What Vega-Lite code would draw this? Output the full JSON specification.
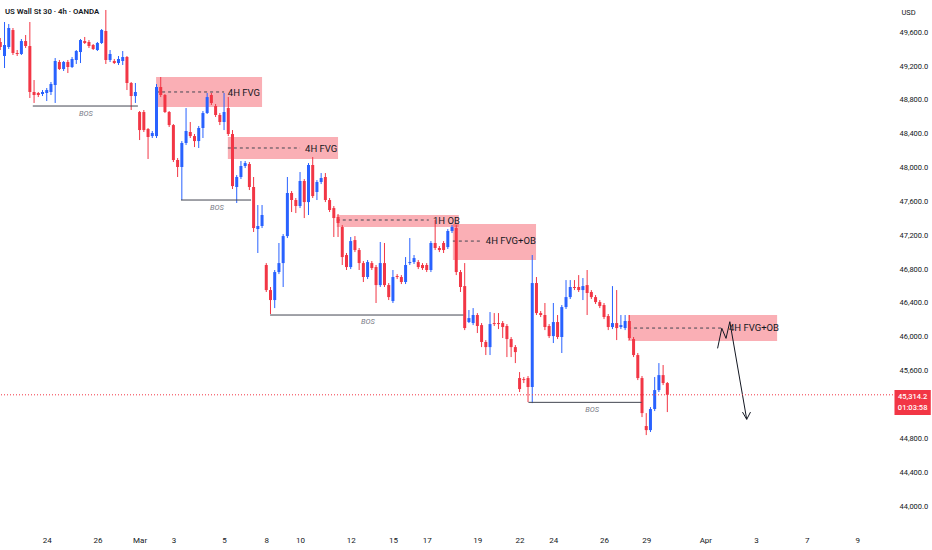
{
  "$schema": "https://vega.github.io/schema/vega-lite/v6.json",
  "description": "US Wall St 30 4h candles with FVG / OB zones and BOS levels.",
  "autosize": {"type": "none"},
  "padding": {"left": 0, "top": 0, "right": 39, "bottom": 22},
  "width": 893,
  "height": 528,
  "background": "white",
  "config": {
    "view": {"stroke": null},
    "font": "Roboto, sans-serif",
    "axis": {"grid": false, "ticks": false, "domain": false, "labelColor": "#131722", "labelFont": "Roboto", "titleFont": "Roboto"}
  },
  "resolve": {"axis": {"x": "independent", "y": "independent"}},
  "datasets": {
    "candles": [
      {"i":0,"o":49484,"h":49531,"l":49389,"c":49424},
      {"i":1,"o":49318,"h":49720,"l":49176,"c":49448},
      {"i":2,"o":49424,"h":49696,"l":49401,"c":49649},
      {"i":3,"o":49625,"h":49649,"l":49330,"c":49354},
      {"i":4,"o":49354,"h":49389,"l":49318,"c":49342},
      {"i":5,"o":49342,"h":49519,"l":49330,"c":49495},
      {"i":6,"o":49495,"h":49566,"l":49413,"c":49436},
      {"i":7,"o":49436,"h":49720,"l":48822,"c":48893},
      {"i":8,"o":48893,"h":49034,"l":48763,"c":48857},
      {"i":9,"o":48881,"h":48893,"l":48833,"c":48857},
      {"i":10,"o":48869,"h":48916,"l":48845,"c":48893},
      {"i":11,"o":48881,"h":48940,"l":48786,"c":48916},
      {"i":12,"o":48893,"h":49011,"l":48857,"c":48987},
      {"i":13,"o":48975,"h":49294,"l":48763,"c":49259},
      {"i":14,"o":49247,"h":49271,"l":49153,"c":49164},
      {"i":15,"o":49164,"h":49259,"l":49141,"c":49247},
      {"i":16,"o":49247,"h":49271,"l":49117,"c":49188},
      {"i":17,"o":49188,"h":49306,"l":49176,"c":49283},
      {"i":18,"o":49271,"h":49389,"l":49224,"c":49377},
      {"i":19,"o":49365,"h":49519,"l":49235,"c":49507},
      {"i":20,"o":49495,"h":49543,"l":49460,"c":49472},
      {"i":21,"o":49484,"h":49507,"l":49413,"c":49436},
      {"i":22,"o":49448,"h":49460,"l":49389,"c":49401},
      {"i":23,"o":49389,"h":49484,"l":49377,"c":49472},
      {"i":24,"o":49472,"h":49637,"l":49460,"c":49625},
      {"i":25,"o":49614,"h":49862,"l":49224,"c":49271},
      {"i":26,"o":49271,"h":49389,"l":49247,"c":49342},
      {"i":27,"o":49259,"h":49283,"l":49224,"c":49235},
      {"i":28,"o":49235,"h":49318,"l":49212,"c":49283},
      {"i":29,"o":49259,"h":49377,"l":49212,"c":49306},
      {"i":30,"o":49306,"h":49318,"l":48916,"c":48999},
      {"i":31,"o":48999,"h":49011,"l":48680,"c":48845},
      {"i":32,"o":48845,"h":48999,"l":48763,"c":48893},
      {"i":33,"o":48656,"h":48668,"l":48325,"c":48443},
      {"i":34,"o":48656,"h":48680,"l":48420,"c":48443},
      {"i":35,"o":48455,"h":48467,"l":48101,"c":48361},
      {"i":36,"o":48372,"h":48432,"l":48349,"c":48408},
      {"i":37,"o":48372,"h":48987,"l":48349,"c":48952},
      {"i":38,"o":48952,"h":49070,"l":48833,"c":48857},
      {"i":39,"o":48857,"h":48869,"l":48644,"c":48656},
      {"i":40,"o":48656,"h":48668,"l":48479,"c":48502},
      {"i":41,"o":48502,"h":48514,"l":48065,"c":48089},
      {"i":42,"o":48089,"h":48112,"l":47888,"c":48006},
      {"i":43,"o":48006,"h":48313,"l":47616,"c":48290},
      {"i":44,"o":48290,"h":48703,"l":48266,"c":48432},
      {"i":45,"o":48420,"h":48538,"l":48349,"c":48372},
      {"i":46,"o":48372,"h":48396,"l":48242,"c":48313},
      {"i":47,"o":48313,"h":48491,"l":48231,"c":48467},
      {"i":48,"o":48467,"h":48668,"l":48349,"c":48644},
      {"i":49,"o":48644,"h":48881,"l":48633,"c":48833},
      {"i":50,"o":48857,"h":48881,"l":48739,"c":48763},
      {"i":51,"o":48727,"h":48751,"l":48597,"c":48621},
      {"i":52,"o":48621,"h":48644,"l":48502,"c":48538},
      {"i":53,"o":48538,"h":48881,"l":48443,"c":48656},
      {"i":54,"o":48703,"h":48833,"l":48372,"c":48396},
      {"i":55,"o":48396,"h":48443,"l":47746,"c":47781},
      {"i":56,"o":47770,"h":47911,"l":47581,"c":47888},
      {"i":57,"o":47888,"h":48077,"l":47864,"c":48018},
      {"i":58,"o":48018,"h":48077,"l":47994,"c":48053},
      {"i":59,"o":48042,"h":48065,"l":47734,"c":47770},
      {"i":60,"o":47770,"h":47888,"l":47238,"c":47285},
      {"i":61,"o":47273,"h":47557,"l":46990,"c":47309},
      {"i":62,"o":47309,"h":47557,"l":47285,"c":47439},
      {"i":63,"o":46848,"h":46871,"l":46529,"c":46552},
      {"i":64,"o":46552,"h":46588,"l":46269,"c":46434},
      {"i":65,"o":46434,"h":46789,"l":46339,"c":46765},
      {"i":66,"o":46765,"h":47108,"l":46741,"c":46871},
      {"i":67,"o":46871,"h":47214,"l":46588,"c":47190},
      {"i":68,"o":47190,"h":47888,"l":47167,"c":47699},
      {"i":69,"o":47699,"h":47722,"l":47474,"c":47616},
      {"i":70,"o":47616,"h":47640,"l":47462,"c":47545},
      {"i":71,"o":47545,"h":47947,"l":47521,"c":47841},
      {"i":72,"o":47841,"h":47864,"l":47403,"c":47592},
      {"i":73,"o":47592,"h":48053,"l":47439,"c":48030},
      {"i":74,"o":48030,"h":48124,"l":47640,"c":47663},
      {"i":75,"o":47711,"h":47852,"l":47616,"c":47829},
      {"i":76,"o":47829,"h":47935,"l":47805,"c":47876},
      {"i":77,"o":47888,"h":47935,"l":47592,"c":47616},
      {"i":78,"o":47616,"h":47640,"l":47474,"c":47498},
      {"i":79,"o":47521,"h":47545,"l":47179,"c":47403},
      {"i":80,"o":47415,"h":47451,"l":47179,"c":47344},
      {"i":81,"o":47297,"h":47320,"l":46848,"c":46942},
      {"i":82,"o":46966,"h":46990,"l":46789,"c":46824},
      {"i":83,"o":46824,"h":47179,"l":46800,"c":47131},
      {"i":84,"o":47143,"h":47190,"l":47001,"c":47025},
      {"i":85,"o":47025,"h":47049,"l":46789,"c":46871},
      {"i":86,"o":46871,"h":46895,"l":46647,"c":46706},
      {"i":87,"o":46706,"h":46907,"l":46682,"c":46883},
      {"i":88,"o":46871,"h":46895,"l":46789,"c":46812},
      {"i":89,"o":46824,"h":46848,"l":46399,"c":46611},
      {"i":90,"o":46611,"h":47120,"l":46588,"c":46871},
      {"i":91,"o":46871,"h":47108,"l":46588,"c":46611},
      {"i":92,"o":46611,"h":46635,"l":46434,"c":46469},
      {"i":93,"o":46422,"h":46789,"l":46399,"c":46706},
      {"i":94,"o":46718,"h":46741,"l":46682,"c":46706},
      {"i":95,"o":46706,"h":46729,"l":46623,"c":46647},
      {"i":96,"o":46647,"h":46942,"l":46623,"c":46848},
      {"i":97,"o":46871,"h":47167,"l":46848,"c":46883},
      {"i":98,"o":46883,"h":46966,"l":46860,"c":46930},
      {"i":99,"o":46883,"h":46907,"l":46800,"c":46824},
      {"i":100,"o":46848,"h":46871,"l":46789,"c":46812},
      {"i":101,"o":46848,"h":46871,"l":46765,"c":46789},
      {"i":102,"o":46789,"h":47131,"l":46765,"c":47108},
      {"i":103,"o":47108,"h":47380,"l":47025,"c":47049},
      {"i":104,"o":47049,"h":47072,"l":47001,"c":47025},
      {"i":105,"o":47108,"h":47131,"l":46990,"c":47025},
      {"i":106,"o":47060,"h":47273,"l":47037,"c":47250},
      {"i":107,"o":47250,"h":47320,"l":47226,"c":47297},
      {"i":108,"o":47285,"h":47320,"l":46729,"c":46765},
      {"i":109,"o":46765,"h":46789,"l":46529,"c":46588},
      {"i":110,"o":46599,"h":46871,"l":46079,"c":46103},
      {"i":111,"o":46174,"h":46316,"l":46162,"c":46221},
      {"i":112,"o":46162,"h":46339,"l":46138,"c":46257},
      {"i":113,"o":46257,"h":46280,"l":46044,"c":46127},
      {"i":114,"o":46138,"h":46162,"l":45878,"c":45938},
      {"i":115,"o":45938,"h":45961,"l":45784,"c":45878},
      {"i":116,"o":45878,"h":46292,"l":45784,"c":46150},
      {"i":117,"o":46162,"h":46280,"l":46127,"c":46150},
      {"i":118,"o":46162,"h":46280,"l":46091,"c":46150},
      {"i":119,"o":46162,"h":46186,"l":45985,"c":46115},
      {"i":120,"o":46127,"h":46150,"l":45760,"c":45973},
      {"i":121,"o":45973,"h":45997,"l":45760,"c":45878},
      {"i":122,"o":45878,"h":45902,"l":45689,"c":45819},
      {"i":123,"o":45512,"h":45583,"l":45347,"c":45382},
      {"i":124,"o":45500,"h":45524,"l":45453,"c":45488},
      {"i":125,"o":45512,"h":45536,"l":45228,"c":45406},
      {"i":126,"o":45406,"h":46966,"l":45216,"c":46635},
      {"i":127,"o":46635,"h":46706,"l":46257,"c":46280},
      {"i":128,"o":46280,"h":46304,"l":46233,"c":46257},
      {"i":129,"o":46257,"h":46399,"l":46079,"c":46115},
      {"i":130,"o":46127,"h":46150,"l":45985,"c":46008},
      {"i":131,"o":46008,"h":46399,"l":45926,"c":46174},
      {"i":132,"o":46174,"h":46257,"l":45973,"c":45997},
      {"i":133,"o":45997,"h":46375,"l":45808,"c":46351},
      {"i":134,"o":46351,"h":46670,"l":46328,"c":46469},
      {"i":135,"o":46469,"h":46670,"l":46446,"c":46588},
      {"i":136,"o":46588,"h":46670,"l":46552,"c":46576},
      {"i":137,"o":46588,"h":46729,"l":46529,"c":46552},
      {"i":138,"o":46552,"h":46694,"l":46434,"c":46599},
      {"i":139,"o":46611,"h":46789,"l":46257,"c":46517},
      {"i":140,"o":46529,"h":46552,"l":46446,"c":46469},
      {"i":141,"o":46469,"h":46493,"l":46387,"c":46410},
      {"i":142,"o":46410,"h":46434,"l":46339,"c":46363},
      {"i":143,"o":46375,"h":46399,"l":46209,"c":46233},
      {"i":144,"o":46245,"h":46269,"l":46079,"c":46115},
      {"i":145,"o":46115,"h":46599,"l":46091,"c":46162},
      {"i":146,"o":46162,"h":46552,"l":45961,"c":46103},
      {"i":147,"o":46115,"h":46257,"l":46091,"c":46138},
      {"i":148,"o":46103,"h":46257,"l":46079,"c":46186},
      {"i":149,"o":46186,"h":46257,"l":45961,"c":45985},
      {"i":150,"o":45973,"h":45997,"l":45760,"c":45784},
      {"i":151,"o":45784,"h":45808,"l":45488,"c":45512},
      {"i":152,"o":45512,"h":45536,"l":45051,"c":45098},
      {"i":153,"o":44945,"h":45098,"l":44838,"c":44897},
      {"i":154,"o":44897,"h":45169,"l":44874,"c":45146},
      {"i":155,"o":45146,"h":45524,"l":45122,"c":45370},
      {"i":156,"o":45370,"h":45689,"l":45347,"c":45547},
      {"i":157,"o":45547,"h":45666,"l":45429,"c":45453},
      {"i":158,"o":45453,"h":45465,"l":45110,"c":45314.2}
    ],
    "zones": [
      {"name":"4H FVG a","x1":36.9,"x2":62.0,"top":49070,"bottom":48715,"mid":48893,"dash_end":53.0},
      {"name":"4H FVG b","x1":53.9,"x2":80.0,"top":48361,"bottom":48101,"mid":48231,"dash_end":71.0},
      {"name":"1H OB","x1":79.7,"x2":108.6,"top":47439,"bottom":47297,"mid":47380,"dash_end":101.5},
      {"name":"4H FVG+OB a","x1":107.2,"x2":126.9,"top":47332,"bottom":46907,"mid":47131,"dash_end":114.0},
      {"name":"4H FVG+OB b","x1":148.7,"x2":184.0,"top":46257,"bottom":45949,"mid":46103,"dash_end":171.0}
    ],
    "labels": [
      {"text":"4H FVG","x":53.9,"p":48881},
      {"text":"4H FVG","x":72.2,"p":48219},
      {"text":"1H OB","x":102.5,"p":47368},
      {"text":"4H FVG+OB","x":115.0,"p":47131},
      {"text":"4H FVG+OB","x":172.6,"p":46103}
    ],
    "bos": [
      {"x1":7.7,"x2":32.6,"p":48727,"mid":20.3,"tp":48633},
      {"x1":42.8,"x2":59.4,"p":47616,"mid":51.3,"tp":47521},
      {"x1":63.9,"x2":109.7,"p":46257,"mid":87.1,"tp":46174},
      {"x1":125.1,"x2":151.9,"p":45225,"mid":140.2,"tp":45134}
    ],
    "path": [
      {"seg":"zigzag","k":0,"x":169.9,"p":45863},
      {"seg":"zigzag","k":1,"x":170.9,"p":46100},
      {"seg":"zigzag","k":2,"x":171.9,"p":45981},
      {"seg":"zigzag","k":3,"x":172.8,"p":46178},
      {"seg":"zigzag","k":4,"x":176.8,"p":45024},
      {"seg":"head","k":0,"x":175.8,"p":45110},
      {"seg":"head","k":1,"x":176.8,"p":45024},
      {"seg":"head","k":2,"x":177.7,"p":45110}
    ]
  },
  "layer": [
    {
      "data": {"name": "zones"},
      "mark": {"type": "rect", "color": "#f23645", "opacity": 0.4},
      "encoding": {
        "x": {
          "field": "x1",
          "type": "quantitative",
          "title": null,
          "scale": {"domain": [-0.07, 211.45], "nice": false, "zero": false, "padding": 0},
          "axis": {
            "values": [11, 23, 33, 41, 53, 63, 71, 83, 93, 101, 113, 123, 131, 143, 153, 167, 179, 191, 203],
            "labelExpr": "['24','26','Mar','3','5','8','10','12','15','17','19','22','24','26','29','Apr','3','7','9'][indexof([11,23,33,41,53,63,71,83,93,101,113,123,131,143,153,167,179,191,203], datum.value)]",
            "labelPadding": 8,
            "labelFontSize": 8,
            "labelFlush": false,
            "labelOverlap": false
          }
        },
        "x2": {"field": "x2"},
        "y": {
          "field": "top",
          "type": "quantitative",
          "title": "USD",
          "scale": {"domain": [43740, 49980], "nice": false, "zero": false, "padding": 0},
          "axis": {
            "orient": "right",
            "values": [44000, 44400, 44800, 45600, 46000, 46400, 46800, 47200, 47600, 48000, 48400, 48800, 49200, 49600],
            "format": ",.1f",
            "labelAlign": "left",
            "labelPadding": 6,
            "labelFontSize": 7.5,
            "labelOverlap": false,
            "labelFlush": false,
            "titleAngle": 0,
            "titleAlign": "left",
            "titleBaseline": "middle",
            "titleX": 8,
            "titleY": 12,
            "titleFontSize": 7.5,
            "titleFontWeight": "normal",
            "titleColor": "#131722"
          }
        },
        "y2": {"field": "bottom"}
      }
    },
    {
      "data": {"name": "zones"},
      "mark": {"type": "rule", "color": "#434651", "strokeWidth": 1, "strokeDash": [3, 3]},
      "encoding": {
        "x": {"field": "x1", "type": "quantitative", "axis": null},
        "x2": {"field": "dash_end"},
        "y": {"field": "mid", "type": "quantitative", "axis": null}
      }
    },
    {
      "data": {"name": "candles"},
      "mark": {"type": "rule", "strokeWidth": 1},
      "encoding": {
        "x": {"field": "i", "type": "quantitative", "axis": null},
        "y": {"field": "l", "type": "quantitative", "axis": null},
        "y2": {"field": "h"},
        "color": {"condition": {"test": "datum.c >= datum.o", "value": "#2962ff"}, "value": "#f23645"}
      }
    },
    {
      "data": {"name": "candles"},
      "mark": {"type": "bar", "width": 3, "minBandSize": 1},
      "encoding": {
        "x": {"field": "i", "type": "quantitative", "axis": null},
        "y": {"field": "o", "type": "quantitative", "axis": null},
        "y2": {"field": "c"},
        "color": {"condition": {"test": "datum.c >= datum.o", "value": "#2962ff"}, "value": "#f23645"}
      }
    },
    {
      "data": {"name": "bos"},
      "mark": {"type": "rule", "color": "#434651", "strokeWidth": 1},
      "encoding": {
        "x": {"field": "x1", "type": "quantitative", "axis": null},
        "x2": {"field": "x2"},
        "y": {"field": "p", "type": "quantitative", "axis": null}
      }
    },
    {
      "data": {"name": "bos"},
      "mark": {"type": "text", "text": "BOS", "fontSize": 7.5, "fontStyle": "italic", "color": "#787b86", "baseline": "middle"},
      "encoding": {
        "x": {"field": "mid", "type": "quantitative", "axis": null},
        "y": {"field": "tp", "type": "quantitative", "axis": null}
      }
    },
    {
      "data": {"name": "labels"},
      "mark": {"type": "text", "align": "left", "baseline": "middle", "fontSize": 9.5, "color": "#131722"},
      "encoding": {
        "x": {"field": "x", "type": "quantitative", "axis": null},
        "y": {"field": "p", "type": "quantitative", "axis": null},
        "text": {"field": "text"}
      }
    },
    {
      "data": {"name": "path"},
      "mark": {"type": "line", "color": "#131722", "strokeWidth": 1},
      "encoding": {
        "x": {"field": "x", "type": "quantitative", "axis": null},
        "y": {"field": "p", "type": "quantitative", "axis": null},
        "detail": {"field": "seg"},
        "order": {"field": "k"}
      }
    },
    {
      "data": {"values": [{"p": 45314.2}]},
      "mark": {"type": "rule", "color": "#f23645", "strokeWidth": 1, "strokeDash": [1, 2]},
      "encoding": {
        "y": {"field": "p", "type": "quantitative", "axis": null}
      }
    },
    {
      "data": {"values": [{"x1": 211.8, "x2": 220.4, "top": 45370, "bottom": 45075}]},
      "mark": {"type": "rect", "color": "#f23645", "clip": false},
      "encoding": {
        "x": {"field": "x1", "type": "quantitative", "axis": null},
        "x2": {"field": "x2"},
        "y": {"field": "top", "type": "quantitative", "axis": null},
        "y2": {"field": "bottom"}
      }
    },
    {
      "data": {"values": [{"t": "45,314.2", "x": 216.1, "p": 45290}, {"t": "01:03:58", "x": 216.1, "p": 45155}]},
      "mark": {"type": "text", "color": "white", "fontSize": 7.5, "fontWeight": 500, "baseline": "middle", "clip": false},
      "encoding": {
        "x": {"field": "x", "type": "quantitative", "axis": null},
        "y": {"field": "p", "type": "quantitative", "axis": null},
        "text": {"field": "t"}
      }
    },
    {
      "data": {"values": [{"t": "US Wall St 30 · 4h · OANDA", "x": 1.1, "p": 49838}]},
      "mark": {"type": "text", "align": "left", "baseline": "middle", "fontSize": 7.8, "fontWeight": 600, "color": "#131722"},
      "encoding": {
        "x": {"field": "x", "type": "quantitative", "axis": null},
        "y": {"field": "p", "type": "quantitative", "axis": null},
        "text": {"field": "t"}
      }
    }
  ]
}
